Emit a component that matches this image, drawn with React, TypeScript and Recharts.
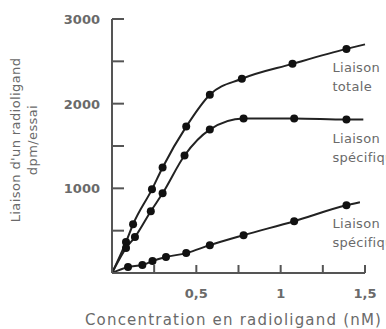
import React from 'react';
import { LineChart, Line, XAxis, YAxis, Label } from 'recharts';

// concentrations (nM) and binding (dpm/essai)
// first and last entries are the curve ends (origin / extension), drawn without a dot
const totalX = [0, 0.083, 0.125, 0.237, 0.3, 0.44, 0.58, 0.77, 1.07, 1.39, 1.5];
const totalY = [0, 365, 576, 988, 1247, 1729, 2106, 2294, 2470, 2647, 2700];
const specX = [0, 0.083, 0.136, 0.23, 0.3, 0.43, 0.58, 0.78, 1.08, 1.39, 1.49];
const specY = [0, 294, 424, 729, 941, 1388, 1694, 1824, 1824, 1812, 1812];
const nonSpecX = [0, 0.095, 0.18, 0.24, 0.32, 0.44, 0.58, 0.78, 1.08, 1.39, 1.47];
const nonSpecY = [0, 71, 94, 141, 188, 235, 329, 447, 612, 800, 835];

const seriesLabels = [
  ['Liaison', 'totale'],
  ['Liaison', 'spécifique'],
  ['Liaison', 'spécifique'],
];

const yTicks = [0, 500, 1000, 1500, 2000, 2500, 3000];
const yTickLabels: Record<number, string> = { 1000: '1000', 2000: '2000', 3000: '3000' };
const xTicks = [0, 0.25, 0.5, 0.75, 1, 1.25, 1.5];
const xTickLabels: Record<number, string> = { 0.5: '0,5', 1: '1', 1.5: '1,5' };

const toPoints = (xs: number[], ys: number[]) => xs.map((x, i) => ({ x, y: ys[i] }));
const series = [
  toPoints(totalX, totalY),
  toPoints(specX, specY),
  toPoints(nonSpecX, nonSpecY),
];

const FONT = '"DejaVu Sans", Verdana, sans-serif';
const TEXT = '#6a6a6a';
const AXIS = '#555';

const YTick = ({ x, y, payload }: any) => (
  <g>
    {payload.value !== 0 && (
      <line x1={x + 12} x2={x + 24} y1={y} y2={y} stroke={AXIS} strokeWidth={2} />
    )}
    <text x={x} y={y} dy={5} textAnchor="end" fontSize={13} fontWeight="bold" fill={TEXT} fontFamily={FONT}>
      {yTickLabels[payload.value] ?? ''}
    </text>
  </g>
);

const XTick = ({ x, y, payload }: any) => (
  <g>
    {payload.value !== 0 && (
      <line x1={x} x2={x} y1={y - 13} y2={y - 21} stroke={AXIS} strokeWidth={2} />
    )}
    <text x={x} y={y} dy={12} textAnchor="middle" fontSize={13} fontWeight="bold" fill={TEXT} fontFamily={FONT}>
      {xTickLabels[payload.value] ?? ''}
    </text>
  </g>
);

const makeDot = (len: number) => (props: any) => {
  const { cx, cy, index } = props;
  if (index === 0 || index === len - 1) return <g key={`d${index}`} />;
  return <circle key={`d${index}`} cx={cx} cy={cy} r={4} fill="#111" />;
};

const makeLabel = (s: number, len: number) => (props: any) => {
  const { x, y, index } = props;
  if (index !== len - 2) return <g key={`l${index}`} />;
  const [a, b] = seriesLabels[s];
  return (
    <text key={`l${index}`} x={x - 14} fontSize={13} fill={TEXT} fontFamily={FONT} letterSpacing={0.3}>
      <tspan x={x - 14} y={y + 23}>{a}</tspan>
      <tspan x={x - 14} y={y + 42}>{b}</tspan>
    </text>
  );
};

const YAxisTitle = () => {
  const cy = 140;
  return (
    <g fontSize={13} fill={TEXT} fontFamily={FONT} textAnchor="middle" letterSpacing={0.4}>
      <text x={15} y={cy} transform={`rotate(-90, 15, ${cy})`} dy={5}>Liaison d'un radioligand</text>
      <text x={32} y={cy} transform={`rotate(-90, 32, ${cy})`} dy={5}>dpm/essai</text>
    </g>
  );
};

export default function App() {
  return (
    <div style={{ position: 'absolute', left: 0, top: 0, width: 386, height: 329, background: '#fff' }}>
      <LineChart width={386} height={329} margin={{ top: 19, right: 21, left: 0, bottom: 0 }}>
        <XAxis
          type="number"
          dataKey="x"
          domain={[0, 1.5]}
          ticks={xTicks}
          interval={0}
          tickSize={0}
          tickMargin={13}
          tick={<XTick />}
          stroke={AXIS}
          strokeWidth={2}
          height={56}
        >
          <Label
            value="Concentration en radioligand  (nM)"
            position="insideBottom"
            offset={4}
            dx={-5}
            style={{ fontSize: 15, fill: TEXT, fontFamily: FONT, letterSpacing: 1.2, whiteSpace: 'pre' }}
          />
        </XAxis>
        <YAxis
          type="number"
          dataKey="y"
          domain={[0, 3000]}
          ticks={yTicks}
          interval={0}
          width={112}
          tickSize={0}
          tickMargin={12}
          tick={<YTick />}
          stroke={AXIS}
          strokeWidth={2}
        >
          <Label content={<YAxisTitle />} />
        </YAxis>
        {series.map((data, s) => (
          <Line
            key={s}
            data={data}
            dataKey="y"
            type="monotone"
            stroke="#222"
            strokeWidth={2}
            dot={makeDot(data.length)}
            activeDot={false}
            label={makeLabel(s, data.length)}
            isAnimationActive={false}
          />
        ))}
      </LineChart>
    </div>
  );
}
